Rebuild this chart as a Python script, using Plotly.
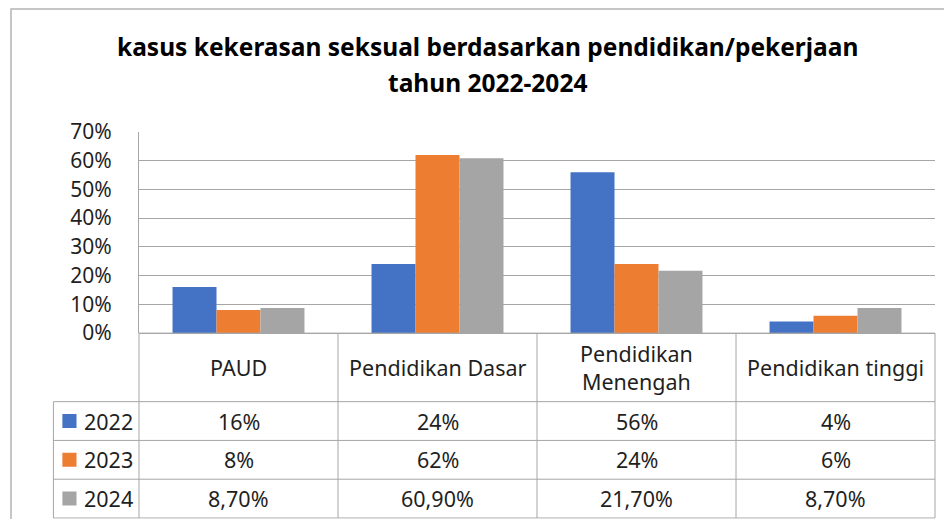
import plotly.graph_objects as go

# data
CATEGORIES = ["PAUD", "Pendidikan Dasar", "Pendidikan Menengah", "Pendidikan tinggi"]
HEADER_LABELS = ["PAUD", "Pendidikan Dasar", "Pendidikan<br>Menengah", "Pendidikan tinggi"]
YEARS = ["2022", "2023", "2024"]
VALUES_2022 = [16, 24, 56, 4]
VALUES_2023 = [8, 62, 24, 6]
VALUES_2024 = [8.7, 60.9, 21.7, 8.7]
DECIMALS = [0, 0, 2]
Y_TICKS = [0, 10, 20, 30, 40, 50, 60, 70]
Y_TICK_TEXT = ["0%", "10%", "20%", "30%", "40%", "50%", "60%", "70%"]

TITLE_1 = "kasus kekerasan seksual berdasarkan pendidikan/pekerjaan"
TITLE_2 = "tahun 2022-2024"
PAGE_HEADING = "Berdasarkan Pendidikan/pekerjaan"

COLORS = ["#4472C4", "#ED7D31", "#A5A5A5"]
GRID = "#a6a6a6"
TEXT = "#1f1f1f"
FONT = "Noto Sans"

series = [VALUES_2022, VALUES_2023, VALUES_2024]

# pixel layout; the page body has an 8px margin on every side,
# so the figure is made smaller so the page still fits the window
OFF = 8
W, H = 952 - 2 * OFF, 527 - 2 * OFF
L, R, T, B = 32, W, 117, H
PW, PH = R - L, B - T


def fx(px):
    return (px - OFF - L) / PW


def fy(py):
    return (B - (py - OFF)) / PH


def clamp(v):
    return min(1.0, max(0.0, v))


BAR_X0, BAR_X1 = 139, 935
BAR_Y0, BAR_Y1 = 333, 132
TAB_Y1 = 518
LEG_W = 0.43   # legend column width in category units
HEAD = 1.77    # header row height in data-row units
PAD = 0.02
UX = (BAR_X1 - BAR_X0) / len(CATEGORIES)
UY = (TAB_Y1 - BAR_Y0) / (len(YEARS) + HEAD)

fig = go.Figure()
for name, vals, col in zip(YEARS, series, COLORS):
    fig.add_trace(go.Bar(x=CATEGORIES, y=vals, name=name, marker=dict(color=col, line=dict(width=0)),
                         xaxis="x", yaxis="y"))
fig.add_trace(go.Scatter(x=[], y=[], xaxis="x2", yaxis="y2", showlegend=False, hoverinfo="skip"))

n = len(CATEGORIES)
nr = len(YEARS)
top = nr + HEAD
left = -0.5 - LEG_W
shapes = []
line = dict(color=GRID, width=1)
# column lines
for i in range(n + 1):
    shapes.append(dict(type="line", xref="x2", yref="y2", x0=i - 0.5, x1=i - 0.5, y0=0, y1=top, line=line))
shapes.append(dict(type="line", xref="x2", yref="y2", x0=left, x1=left, y0=0, y1=nr, line=line))
# row lines
for r in range(nr + 1):
    shapes.append(dict(type="line", xref="x2", yref="y2", x0=left, x1=n - 0.5, y0=r, y1=r, line=line))
shapes.append(dict(type="line", xref="x2", yref="y2", x0=-0.5, x1=n - 0.5, y0=top, y1=top, line=line))

annotations = []
tfont = dict(family=FONT, size=21.5, color=TEXT)
for i, lab in enumerate(HEADER_LABELS):
    annotations.append(dict(xref="x2", yref="y2", x=i, y=nr + HEAD / 2, text=lab, showarrow=False,
                            font=tfont, xanchor="center", yanchor="middle"))
for k, (name, vals, col, dec) in enumerate(zip(YEARS, series, COLORS, DECIMALS)):
    yc = nr - k - 0.5
    shapes.append(dict(type="rect", xref="x2", yref="y2", x0=left + 0.045, x1=left + 0.116,
                       y0=yc - 0.18, y1=yc + 0.18, fillcolor=col, line=dict(width=0)))
    annotations.append(dict(xref="x2", yref="y2", x=left + 0.146, y=yc, text=name, showarrow=False,
                            font=tfont, xanchor="left", yanchor="middle"))
    for i, v in enumerate(vals):
        txt = f"{v:.{dec}f}%".replace(".", ",")
        annotations.append(dict(xref="x2", yref="y2", x=i, y=yc, text=txt, showarrow=False,
                                font=tfont, xanchor="center", yanchor="middle"))

# title
for txt, py in [(TITLE_1, 46.5), (TITLE_2, 82.5)]:
    annotations.append(dict(xref="paper", yref="paper", x=fx(487), y=fy(py), text=f"<b>{txt}</b>",
                            showarrow=False, xanchor="center", yanchor="middle",
                            font=dict(family=FONT, size=24.5, color="#000000")))
annotations.append(dict(xref="paper", yref="paper", x=fx(342), y=fy(-7.5), text=f"<b><i>{PAGE_HEADING}</i></b>",
                        showarrow=False, xanchor="right", yanchor="middle",
                        font=dict(family=FONT, size=24, color="#000000")))

# chart frame
shapes.append(dict(type="path", xref="paper", yref="paper",
                   path=f"M {fx(11)},{fy(540)} L {fx(11)},{fy(9)} L {fx(970)},{fy(9)}",
                   line=dict(color="#b4b4b4", width=1.5)))

fig.update_layout(
    width=W, height=H,
    margin=dict(l=L, r=W - R, t=T, b=H - B, pad=0, autoexpand=False),
    paper_bgcolor="white", plot_bgcolor="rgba(0,0,0,0)",
    barmode="group", bargap=0.337, bargroupgap=0,
    showlegend=False,
    xaxis=dict(domain=[fx(BAR_X0), fx(BAR_X1)], anchor="y", type="category", range=[-0.5, n - 0.5],
               showticklabels=False, showgrid=False, showline=False, zeroline=False, fixedrange=True,
               automargin=False),
    yaxis=dict(domain=[fy(BAR_Y0), fy(BAR_Y1)], anchor="x", range=[0, 70],
               tickmode="array", tickvals=Y_TICKS, ticktext=Y_TICK_TEXT,
               showgrid=True, gridcolor=GRID, gridwidth=1, zeroline=True, zerolinecolor=GRID, zerolinewidth=1,
               showline=True, linecolor=GRID, linewidth=1, ticks="", ticklabelstandoff=22,
               tickfont=dict(family=FONT, size=21, color=TEXT), fixedrange=True, automargin=False),
    xaxis2=dict(domain=[clamp(fx(BAR_X0 - (LEG_W + PAD) * UX)), clamp(fx(BAR_X1 + PAD * UX))], anchor="y2",
                range=[left - PAD, n - 0.5 + PAD], visible=False, fixedrange=True, automargin=False),
    yaxis2=dict(domain=[clamp(fy(TAB_Y1 + PAD * UY)), clamp(fy(BAR_Y0 - PAD * UY))], anchor="x2",
                range=[-PAD, top + PAD], visible=False, fixedrange=True, automargin=False),
    shapes=shapes,
    annotations=annotations,
)

fig.write_html("out.html")
